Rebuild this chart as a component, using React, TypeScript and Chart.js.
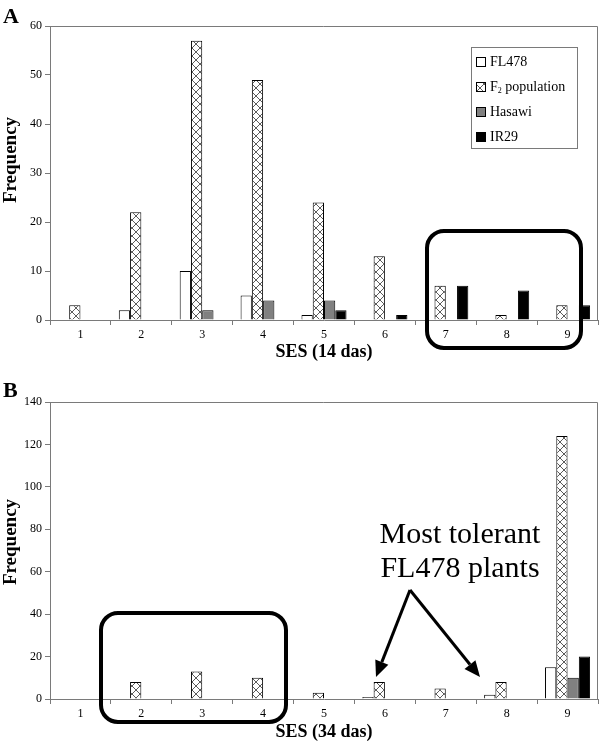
import React, { useEffect, useRef } from 'react';
import { Chart, registerables } from 'chart.js';
Chart.register(...registerables);

const categories = ['1', '2', '3', '4', '5', '6', '7', '8', '9'];
const seriesNames = ['FL478', 'F2 population', 'Hasawi', 'IR29'];

// Panel A: SES at 14 days after salinization
const a_FL478 = [0, 2, 10, 5, 1, 0, 0, 0, 0];
const a_F2 = [3, 22, 57, 49, 24, 13, 7, 1, 3];
const a_Hasawi = [0, 0, 2, 4, 4, 0, 0, 0, 0];
const a_IR29 = [0, 0, 0, 0, 2, 1, 7, 6, 3];

// Panel B: SES at 34 days
const b_FL478 = [0, 0, 0, 0, 0, 1, 0, 2, 15];
const b_F2 = [0, 8, 13, 10, 3, 8, 5, 8, 124];
const b_Hasawi = [0, 0, 0, 0, 0, 0, 0, 0, 10];
const b_IR29 = [0, 0, 0, 0, 0, 0, 0, 0, 20];

const yMaxA = 60;
const yStepA = 10;
const yMaxB = 140;
const yStepB = 20;

const SERIF = "'Liberation Serif', 'Times New Roman', Times, serif";
const AXIS_GRAY = '#7a7a7a';

function makeHatch(): CanvasPattern | string {
  const c = document.createElement('canvas');
  c.width = 8;
  c.height = 8;
  const g = c.getContext('2d');
  if (!g) return '#ddd';
  g.fillStyle = '#ffffff';
  g.fillRect(0, 0, 8, 8);
  g.strokeStyle = '#4a4a4a';
  g.lineWidth = 0.9;
  g.beginPath();
  g.moveTo(-1, -1);
  g.lineTo(9, 9);
  g.moveTo(9, -1);
  g.lineTo(-1, 9);
  g.stroke();
  const p = g.createPattern(c, 'repeat');
  return p || '#ddd';
}

function drawF2(ctx: CanvasRenderingContext2D, x: number, y: number, size: number) {
  ctx.font = `${size}px ${SERIF}`;
  ctx.fillText('F', x, y);
  const wF = ctx.measureText('F').width;
  ctx.font = `${Math.round(size * 0.6)}px ${SERIF}`;
  ctx.fillText('2', x + wF, y + 4);
  const w2 = ctx.measureText('2').width;
  ctx.font = `${size}px ${SERIF}`;
  ctx.fillText(' population', x + wF + w2, y);
}

interface PanelSpec {
  letter: string;
  letterY: number;
  yTitleY: number;
  xTitle: string;
  xTitlePad: number;
  topPad: number;
  xAxisHeight: number;
  yMax: number;
  yStep: number;
  data: number[][];
  box: { x: number; y: number; w: number; h: number };
  legend: boolean;
  arrows: boolean;
}

function buildChart(canvas: HTMLCanvasElement, spec: PanelSpec): Chart {
  const hatch = makeHatch();
  const fills: (string | CanvasPattern)[] = ['#ffffff', hatch, '#808080', '#000000'];

  const panelPlugin = {
    id: 'panelDecor' + spec.letter,
    afterDraw(chart: any) {
      const ctx: CanvasRenderingContext2D = chart.ctx;
      const ca = chart.chartArea;
      ctx.save();
      // plot frame (top and right)
      ctx.strokeStyle = AXIS_GRAY;
      ctx.lineWidth = 1;
      ctx.beginPath();
      ctx.moveTo(ca.left, ca.top + 0.5);
      ctx.lineTo(ca.right - 0.5, ca.top + 0.5);
      ctx.lineTo(ca.right - 0.5, ca.bottom);
      ctx.stroke();

      // panel letter
      ctx.fillStyle = '#000';
      ctx.textAlign = 'left';
      ctx.textBaseline = 'alphabetic';
      ctx.font = `bold 22px ${SERIF}`;
      ctx.fillText(spec.letter, 3, spec.letterY);

      // y title
      ctx.save();
      ctx.translate(11, spec.yTitleY);
      ctx.rotate(-Math.PI / 2);
      ctx.textAlign = 'center';
      ctx.textBaseline = 'middle';
      ctx.font = `bold 19px ${SERIF}`;
      ctx.fillText('Frequency', 0, 0);
      ctx.restore();

      // rounded highlight box
      ctx.strokeStyle = '#000';
      ctx.lineWidth = 4;
      ctx.beginPath();
      (ctx as any).roundRect(spec.box.x, spec.box.y, spec.box.w, spec.box.h, 17);
      ctx.stroke();

      if (spec.legend) {
        const lx = 471, ly = 47, lw = 106, lh = 101;
        ctx.fillStyle = '#fff';
        ctx.fillRect(lx, ly, lw, lh);
        ctx.strokeStyle = AXIS_GRAY;
        ctx.lineWidth = 1;
        ctx.strokeRect(lx + 0.5, ly + 0.5, lw, lh);
        const rows = [62, 87, 112, 137];
        seriesNames.forEach((name, i) => {
          const cy = rows[i];
          ctx.fillStyle = fills[i] as any;
          ctx.fillRect(476, cy - 5, 10, 10);
          ctx.strokeStyle = '#000';
          ctx.lineWidth = 1;
          ctx.strokeRect(476.5, cy - 4.5, 9, 9);
          ctx.fillStyle = '#000';
          ctx.textAlign = 'left';
          ctx.textBaseline = 'middle';
          if (i === 1) {
            drawF2(ctx, 490, cy, 14);
          } else {
            ctx.font = `14px ${SERIF}`;
            ctx.fillText(name, 490, cy);
          }
        });
      }

      if (spec.arrows) {
        ctx.fillStyle = '#000';
        ctx.textAlign = 'center';
        ctx.textBaseline = 'alphabetic';
        ctx.font = `30px ${SERIF}`;
        ctx.fillText('Most tolerant', 460, 173);
        ctx.fillText('FL478 plants', 460, 207);
        const apex = { x: 410, y: 220 };
        const tips = [
          { x: 376, y: 307 },
          { x: 480, y: 307 },
        ];
        ctx.strokeStyle = '#000';
        ctx.lineWidth = 3;
        tips.forEach((t) => {
          const ang = Math.atan2(t.y - apex.y, t.x - apex.x);
          const headLen = 16;
          const bx = t.x - headLen * Math.cos(ang);
          const by = t.y - headLen * Math.sin(ang);
          ctx.beginPath();
          ctx.moveTo(apex.x, apex.y);
          ctx.lineTo(bx, by);
          ctx.stroke();
          const hw = 7;
          ctx.beginPath();
          ctx.moveTo(t.x, t.y);
          ctx.lineTo(bx + hw * Math.sin(ang), by - hw * Math.cos(ang));
          ctx.lineTo(bx - hw * Math.sin(ang), by + hw * Math.cos(ang));
          ctx.closePath();
          ctx.fill();
        });
      }
      ctx.restore();
    },
  };

  return new Chart(canvas, {
    type: 'bar',
    data: {
      labels: categories,
      datasets: seriesNames.map((name, i) => ({
        label: name,
        data: spec.data[i],
        backgroundColor: fills[i] as any,
        borderColor: '#000',
        borderWidth: 1,
        categoryPercentage: 0.74,
        barPercentage: 1.0,
      })),
    },
    options: {
      animation: false,
      responsive: false,
      maintainAspectRatio: false,
      layout: { padding: { left: 0, right: 2, top: spec.topPad, bottom: 0 } },
      plugins: {
        legend: { display: false },
        tooltip: { enabled: false },
      },
      scales: {
        x: {
          offset: true,
          grid: {
            display: true,
            offset: true,
            drawOnChartArea: false,
            drawTicks: true,
            tickLength: 5,
            color: AXIS_GRAY,
          },
          border: { display: true, color: AXIS_GRAY },
          ticks: { color: '#000', font: { family: SERIF, size: 12 }, padding: 3 },
          title: {
            display: true,
            text: spec.xTitle,
            color: '#000',
            font: { family: SERIF, size: 18, weight: 'bold', lineHeight: 1 },
            padding: { top: 0, bottom: spec.xTitlePad },
          },
          afterFit: (scale: any) => {
            scale.height = spec.xAxisHeight;
          },
        },
        y: {
          min: 0,
          max: spec.yMax,
          ticks: {
            stepSize: spec.yStep,
            color: '#000',
            font: { family: SERIF, size: 12 },
            padding: 3,
          },
          grid: {
            display: true,
            drawOnChartArea: false,
            drawTicks: true,
            tickLength: 5,
            color: AXIS_GRAY,
          },
          border: { display: true, color: AXIS_GRAY },
          afterFit: (scale: any) => {
            scale.width = 50;
          },
        },
      },
    },
    plugins: [panelPlugin],
  } as any);
}

export default function App() {
  const refA = useRef<HTMLCanvasElement>(null);
  const refB = useRef<HTMLCanvasElement>(null);

  useEffect(() => {
    if (!refA.current || !refB.current) return;
    const chartA = buildChart(refA.current, {
      letter: 'A',
      letterY: 23,
      yTitleY: 160,
      xTitle: 'SES (14 das)',
      xTitlePad: 9,
      topPad: 26,
      xAxisHeight: 50,
      yMax: yMaxA,
      yStep: yStepA,
      data: [a_FL478, a_F2, a_Hasawi, a_IR29],
      box: { x: 427, y: 231, w: 154, h: 117 },
      legend: true,
      arrows: false,
    });
    const chartB = buildChart(refB.current, {
      letter: 'B',
      letterY: 27,
      yTitleY: 172,
      xTitle: 'SES (34 das)',
      xTitlePad: 0,
      topPad: 32,
      xAxisHeight: 42,
      yMax: yMaxB,
      yStep: yStepB,
      data: [b_FL478, b_F2, b_Hasawi, b_IR29],
      box: { x: 101, y: 243, w: 185, h: 109 },
      legend: false,
      arrows: true,
    });
    return () => {
      chartA.destroy();
      chartB.destroy();
    };
  }, []);

  return (
    <div
      style={{
        position: 'absolute',
        left: 0,
        top: 0,
        width: 600,
        height: 741,
        background: '#fff',
      }}
    >
      <canvas ref={refA} width={600} height={370} style={{ display: 'block', width: 600, height: 370 }} />
      <canvas ref={refB} width={600} height={371} style={{ display: 'block', width: 600, height: 371 }} />
    </div>
  );
}
